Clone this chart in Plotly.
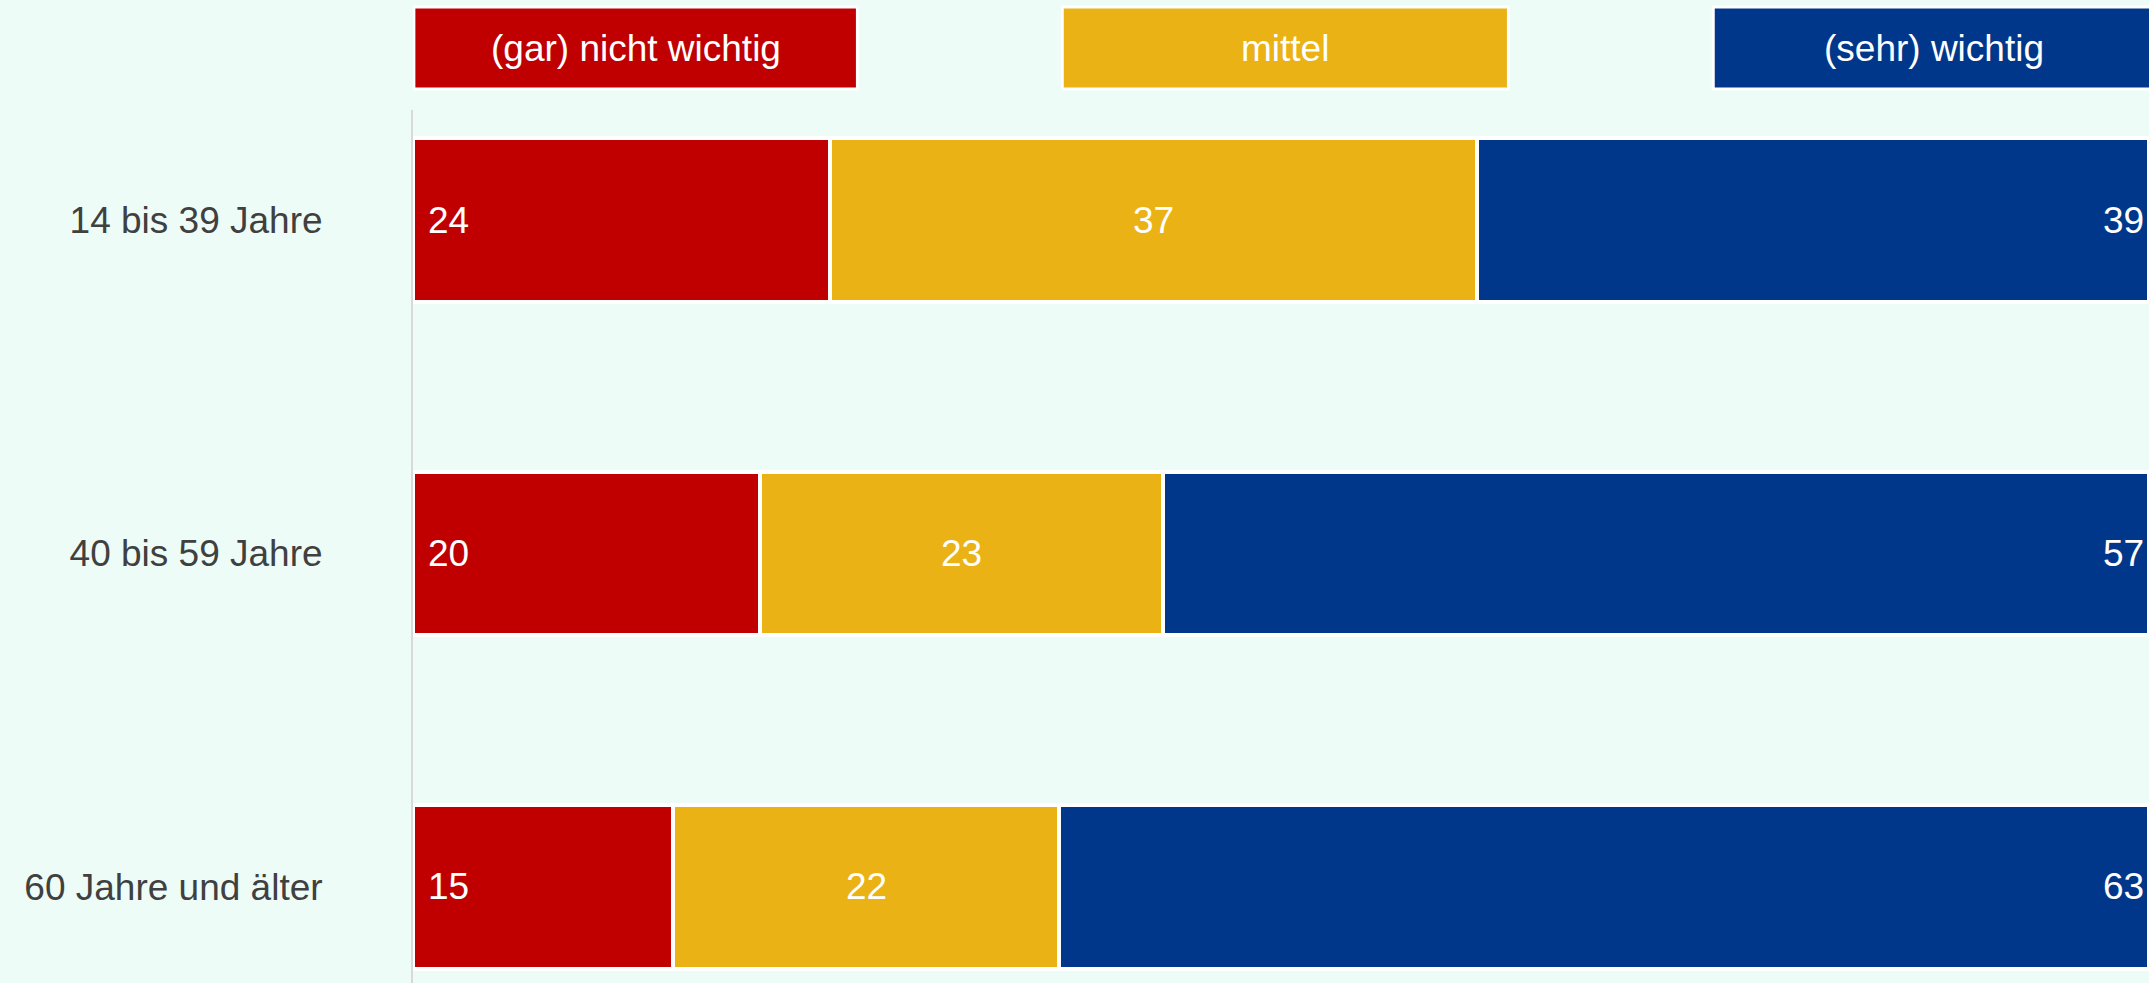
import plotly.graph_objects as go

categories = ["14 bis 39 Jahre", "40 bis 59 Jahre", "60 Jahre und älter"]
series_names = ["(gar) nicht wichtig", "mittel", "(sehr) wichtig"]
# shares in percent (labels show rounded values)
nicht_wichtig = [24.0, 20.0, 15.0]
mittel = [37.3, 23.2, 22.2]
wichtig = [38.7, 56.8, 62.8]

colors = ["#C00000", "#EAB214", "#00378A"]
bg = "#EDFCF6"
FONT = "Liberation Sans, Arial, sans-serif"
FS = 37

values = [nicht_wichtig, mittel, wichtig]
fig = go.Figure()
for name, vals, col in zip(series_names, values, colors):
    fig.add_trace(go.Bar(
        y=categories, x=vals, name=name, orientation="h",
        marker=dict(color=col, line=dict(color="white", width=4)),
        width=0.49, showlegend=False, hoverinfo="x+name",
    ))

annotations = []
# value labels
for i, cat in enumerate(categories):
    annotations.append(dict(x=0, y=cat, xref="x", yref="y", text=f"{nicht_wichtig[i]:.0f}",
                            xanchor="left", xshift=13, showarrow=False,
                            font=dict(color="white", size=FS, family=FONT)))
    annotations.append(dict(x=nicht_wichtig[i] + mittel[i] / 2, y=cat, xref="x", yref="y",
                            text=f"{mittel[i]:.0f}", xanchor="center", showarrow=False,
                            font=dict(color="white", size=FS, family=FONT)))
    annotations.append(dict(x=100, y=cat, xref="x", yref="y", text=f"{wichtig[i]:.0f}",
                            xanchor="right", xshift=-3, showarrow=False,
                            font=dict(color="white", size=FS, family=FONT)))

# legend boxes
box_x = [(0.05, 25.6), (37.4, 63.1), (74.9, 101.0)]
shapes = []
for (x0, x1), name, col in zip(box_x, series_names, colors):
    shapes.append(dict(type="rect", xref="x", yref="paper", x0=x0, x1=x1, y0=1.024, y1=1.118,
                       fillcolor=col, line=dict(color="white", width=3), layer="above"))
    annotations.append(dict(x=(x0 + min(x1, 100.3)) / 2, y=1.071, xref="x", yref="paper",
                            text=name, showarrow=False, xanchor="center", yanchor="middle",
                            font=dict(color="white", size=FS, family=FONT)))

fig.update_layout(
    barmode="stack",
    width=2149, height=983,
    margin=dict(l=413, r=0, t=110, b=0),
    paper_bgcolor=bg, plot_bgcolor=bg,
    font=dict(family=FONT, size=FS, color="#404040"),
    shapes=shapes, annotations=annotations,
    bargap=0.51,
)
fig.update_xaxes(range=[0, 100], showgrid=False, zeroline=False, showticklabels=False,
                 showline=False, fixedrange=True)
fig.update_yaxes(categoryorder="array", categoryarray=categories,
                 range=[2.288, -0.33], showgrid=False, zeroline=False,
                 showline=True, linecolor="#D9D9D9", linewidth=2,
                 ticks="", ticklabelstandoff=81,
                 tickfont=dict(size=FS, color="#404040", family=FONT))

fig.write_html(
    "out.html",
    config={"displayModeBar": False},
    post_script="document.body.style.margin='0';document.body.style.padding='0';"
                "document.body.style.overflow='hidden';"
                f"document.body.style.background='{bg}';",
)
